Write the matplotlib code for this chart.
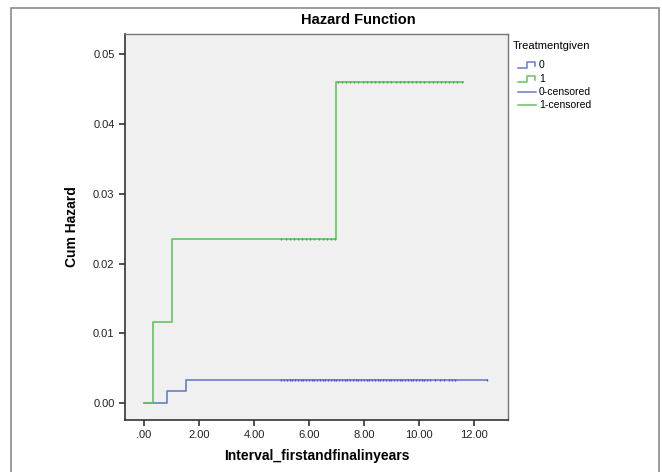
import matplotlib
matplotlib.use("Agg")
import matplotlib.pyplot as plt
from matplotlib.lines import Line2D
from matplotlib.patches import Rectangle

plt.rcParams['font.family'] = ['Liberation Sans', 'DejaVu Sans']

# Step data (time, cumulative hazard)
t0 = [0.0, 0.84, 1.53, 12.47]
h0 = [0.0, 0.0018, 0.0033, 0.0033]
t1 = [0.0, 0.33, 1.02, 7.0, 11.6]
h1 = [0.0, 0.0117, 0.0235, 0.046, 0.046]

# Censored times
cens0 = [5.0, 5.1, 5.2, 5.3, 5.4, 5.5, 5.6, 5.7, 5.8, 5.9, 6.0, 6.1, 6.2,
         6.3, 6.4, 6.5, 6.6, 6.7, 6.8, 6.9, 7.0, 7.1, 7.2, 7.3, 7.4, 7.5,
         7.6, 7.7, 7.8, 7.9, 8.0, 8.1, 8.2, 8.3, 8.4, 8.5, 8.6, 8.7, 8.8,
         8.9, 9.0, 9.1, 9.2, 9.3, 9.4, 9.5, 9.6, 9.7, 9.8, 9.9, 10.0, 10.1,
         10.2, 10.3, 10.4, 10.6, 10.75, 10.9, 11.1, 11.2, 11.3, 12.47]
cens1a = [5.0, 5.15, 5.3, 5.45, 5.6, 5.75, 5.9, 6.05, 6.2, 6.35, 6.5,
          6.65, 6.8, 6.95]
cens1b = [7.05, 7.2, 7.35, 7.5, 7.65, 7.8, 7.95, 8.1, 8.25, 8.4, 8.55,
          8.7, 8.85, 9.0, 9.15, 9.3, 9.45, 9.6, 9.75, 9.9, 10.05, 10.2,
          10.35, 10.5, 10.65, 10.8, 10.95, 11.1, 11.25, 11.4, 11.55]

xticks = [0, 2, 4, 6, 8, 10, 12]
xticklabels = ['.00', '2.00', '4.00', '6.00', '8.00', '10.00', '12.00']
yticks = [0.0, 0.01, 0.02, 0.03, 0.04, 0.05]
yticklabels = ['0.00', '0.01', '0.02', '0.03', '0.04', '0.05']

blue = '#6a7bcc'
blue_dark = '#4358b4'
green = '#62c462'
green_dark = '#43a843'

fig = plt.figure(figsize=(6.62, 4.72), dpi=100)
fig.patch.set_facecolor('white')
# outer frame
fig.add_artist(Rectangle((11/662, -0.01), 648/662, 1 - 8/472 + 0.01,
                         transform=fig.transFigure, fill=False,
                         edgecolor='#8a8a8a', linewidth=1.2))

ax = fig.add_axes([125/662, 1 - 420/472, (508-125)/662, (420-34)/472])
ax.set_facecolor('#f0f0f0')

ax.step(t0, h0, where='post', color=blue, lw=1.2)
ax.step(t1, h1, where='post', color=green, lw=1.2)
ax.plot(cens0, [h0[-1]]*len(cens0), linestyle='none', marker='|',
        color=blue_dark, markersize=1.6, mew=1.0)
ax.plot(cens1a, [h1[2]]*len(cens1a), linestyle='none', marker='|',
        color=green_dark, markersize=1.6, mew=1.0)
ax.plot(cens1b, [h1[3]]*len(cens1b), linestyle='none', marker='|',
        color=green_dark, markersize=1.6, mew=1.0)

ax.set_xlim(-0.69, 13.24)
ax.set_ylim(-0.0024, 0.0529)
ax.set_xticks(xticks)
ax.set_xticklabels(xticklabels)
ax.set_yticks(yticks)
ax.set_yticklabels(yticklabels)
ax.tick_params(axis='both', labelsize=8, length=4, width=1.2,
               color='#333333', labelcolor='#222222')
for s in ['left', 'bottom']:
    ax.spines[s].set_color('#333333')
    ax.spines[s].set_linewidth(1.2)
for s in ['top', 'right']:
    ax.spines[s].set_color('#777777')
    ax.spines[s].set_linewidth(1.0)

ax.set_xlabel('Interval_firstandfinalinyears', fontsize=10, fontweight='bold',
              labelpad=6)
ax.set_ylabel('Cum Hazard', fontsize=10, fontweight='bold', labelpad=10)
fig.text(358/662, 1 - 20/472, 'Hazard Function', fontsize=10.5,
         fontweight='bold', ha='center', va='center')

# Legend (manual)
W, H = 662, 472
def fx(x):
    return x / W
def fy(y):
    return 1 - y / H

fig.text(fx(513), fy(46), 'Treatmentgiven', fontsize=8, ha='left', va='center')
rows = [(65, '0', blue, True), (79, '1', green, True),
        (92, '0-censored', blue, False), (105, '1-censored', green, False)]
for y, lab, c, stepglyph in rows:
    if stepglyph:
        xs = [518, 527, 527, 535, 535]
        ys = [y + 3, y + 3, y - 3, y - 3, y + 1]
    else:
        xs = [518, 536]
        ys = [y, y]
    fig.add_artist(Line2D([fx(v) for v in xs], [fy(v) for v in ys],
                          transform=fig.transFigure, color=c, lw=1.1))
    fig.text(fx(539), fy(y), lab, fontsize=7.5, ha='left', va='center')

fig.savefig('out.png', dpi=100)
